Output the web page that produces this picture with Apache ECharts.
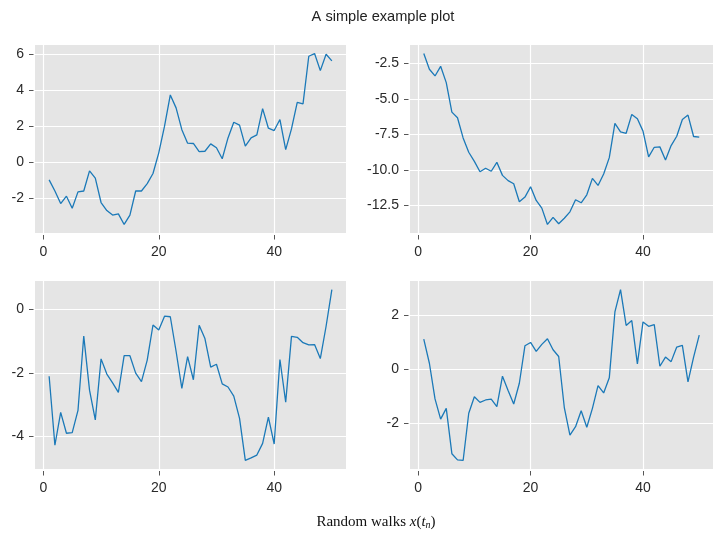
<!DOCTYPE html>
<html>
<head>
<meta charset="utf-8">
<script src="https://cdn.jsdelivr.net/npm/echarts@6/dist/echarts.min.js"></script>
<style>html,body{margin:0;padding:0;background:#fff;}#c{width:713px;height:533px;}</style>
</head>
<body>
<div id="c"></div>
<script>
const steps = [1,2,3,4,5,6,7,8,9,10,11,12,13,14,15,16,17,18,19,20,21,22,23,24,25,26,27,28,29,30,31,32,33,34,35,36,37,38,39,40,41,42,43,44,45,46,47,48,49,50];

const walk1 = [-0.98,-1.6,-2.3,-1.89,-2.56,-1.65,-1.6,-0.48,-0.89,-2.24,-2.69,-2.94,-2.87,-3.46,-2.94,-1.6,-1.6,-1.19,-0.63,0.52,2.0,3.74,3.02,1.81,1.06,1.04,0.59,0.61,1.02,0.8,0.19,1.35,2.22,2.06,0.89,1.35,1.52,2.98,1.89,1.76,2.37,0.7,1.85,3.33,3.24,5.89,6.04,5.09,6.0,5.63];
const walk2 = [-1.79,-2.9,-3.37,-2.69,-3.84,-5.92,-6.32,-7.74,-8.75,-9.39,-10.12,-9.88,-10.09,-9.46,-10.38,-10.75,-10.97,-12.24,-11.91,-11.18,-12.15,-12.69,-13.84,-13.34,-13.79,-13.4,-12.95,-12.1,-12.31,-11.75,-10.59,-11.09,-10.28,-9.13,-6.72,-7.31,-7.41,-6.08,-6.39,-7.26,-9.08,-8.4,-8.37,-9.29,-8.28,-7.62,-6.44,-6.13,-7.64,-7.69];
const walk3 = [-2.11,-4.29,-3.25,-3.91,-3.89,-3.19,-0.84,-2.55,-3.49,-1.56,-2.04,-2.32,-2.62,-1.46,-1.46,-2.01,-2.28,-1.6,-0.49,-0.65,-0.21,-0.23,-1.32,-2.49,-1.49,-2.22,-0.5,-0.92,-1.82,-1.73,-2.35,-2.45,-2.74,-3.44,-4.77,-4.69,-4.6,-4.23,-3.4,-4.25,-1.58,-2.93,-0.85,-0.88,-1.05,-1.12,-1.11,-1.55,-0.53,0.63];
const walk4 = [1.11,0.22,-1.1,-1.85,-1.45,-3.13,-3.36,-3.38,-1.63,-1.02,-1.23,-1.14,-1.11,-1.39,-0.26,-0.79,-1.29,-0.52,0.87,0.99,0.66,0.92,1.13,0.72,0.47,-1.42,-2.44,-2.13,-1.54,-2.15,-1.45,-0.61,-0.88,-0.32,2.12,2.95,1.62,1.8,0.2,1.75,1.59,1.65,0.11,0.45,0.28,0.82,0.88,-0.47,0.45,1.26];

const xTicks = [0, 20, 40];
const yTicks1 = [-2, 0, 2, 4, 6];
const yTicks2 = [-12.5, -10, -7.5, -5, -2.5];
const yTicks3 = [-4, -2, 0];
const yTicks4 = [-2, 0, 2];

const titleText = 'A simple example plot';

const walks = [walk1, walk2, walk3, walk4];
const yTickSets = [yTicks1, yTicks2, yTicks3, yTicks4];
const yDecimals = [0, 1, 0, 0];

const grids = [
  {left: 35, top: 45, width: 311, height: 188},
  {left: 410, top: 45, width: 312, height: 188},
  {left: 35, top: 281, width: 311, height: 188},
  {left: 410, top: 281, width: 312, height: 188}
];

function padRange(arr) {
  let mn = Math.min(...arr), mx = Math.max(...arr);
  const p = (mx - mn) * 0.05;
  return [mn - p, mx + p];
}
const xr = padRange(steps);

const font = {fontFamily: 'Liberation Sans', fontSize: 14, color: '#2a2a2a'};

const option = {
  animation: false,
  backgroundColor: '#ffffff',
  title: {
    text: titleText, left: 378, top: 4, textAlign: 'center',
    textStyle: {fontFamily: 'Liberation Sans', fontSize: 14.6, fontWeight: 'normal', color: '#222'}
  },
  grid: grids.map(g => Object.assign({show: true, backgroundColor: '#e5e5e5', borderWidth: 0}, g)),
  xAxis: grids.map((g, i) => ({
    type: 'value', gridIndex: i, min: xr[0], max: xr[1], offset: 2, position: 'bottom',
    axisLine: {show: false, onZero: false},
    axisTick: {show: true, length: 4.5, customValues: xTicks, lineStyle: {color: '#555', width: 1}},
    axisLabel: Object.assign({customValues: xTicks, margin: 10}, font),
    splitLine: {show: true, lineStyle: {color: '#ffffff', width: 1.2}}
  })),
  yAxis: grids.map((g, i) => {
    const r = padRange(walks[i]);
    return {
      type: 'value', gridIndex: i, min: r[0], max: r[1], offset: 1.5, position: 'left',
      axisLine: {show: false, onZero: false},
      axisTick: {show: true, length: 4.5, customValues: yTickSets[i], lineStyle: {color: '#555', width: 1}},
      axisLabel: Object.assign({customValues: yTickSets[i], margin: 9.5,
        formatter: v => v.toFixed(yDecimals[i])}, font),
      splitLine: {show: true, lineStyle: {color: '#ffffff', width: 1.2}}
    };
  }),
  series: walks.map((w, i) => ({
    type: 'line', xAxisIndex: i, yAxisIndex: i,
    data: steps.map((s, k) => [s, w[k]]),
    showSymbol: false, symbol: 'none',
    lineStyle: {color: '#1b79b8', width: 1.3},
    clip: true
  })),
  graphic: [{
    type: 'text', x: 376, y: 522,
    style: {
      text: 'Random walks {i|x}({i|t}{s|n})',
      fontFamily: 'Liberation Serif', fontSize: 15, fill: '#111',
      align: 'center', verticalAlign: 'middle',
      rich: {
        i: {fontFamily: 'Liberation Serif', fontStyle: 'italic', fontSize: 15, fill: '#111'},
        s: {fontFamily: 'Liberation Serif', fontStyle: 'italic', fontSize: 10, fill: '#111', padding: [6, 0, 0, 0]}
      }
    }
  }]
};

echarts.init(document.getElementById('c'), null, {renderer: 'canvas'}).setOption(option);
</script>
</body>
</html>
